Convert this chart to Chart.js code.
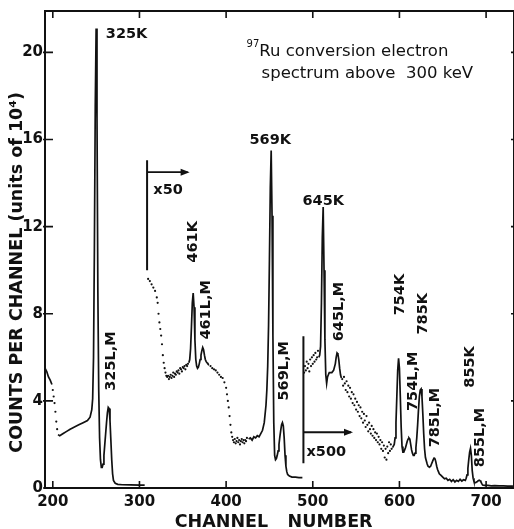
<!DOCTYPE html>
<html>
<head>
<meta charset="utf-8">
<script src="https://cdn.jsdelivr.net/npm/chart.js@4.4.0/dist/chart.umd.min.js"></script>
<style>
  html, body { margin: 0; padding: 0; background: #fff; overflow: hidden; }
  #wrap { width: 514px; height: 529px; overflow: hidden; }
  #wrap canvas { display: block; }
</style>
</head>
<body>
<div id="wrap"><canvas id="spectrum" width="518" height="529"></canvas></div>
<script>
// axis ticks
const xTicks = [200, 300, 400, 500, 600, 700];
const yTicks = [0, 4, 8, 12, 16, 20];

// unscaled part (channel 191-306)
const rawEdgeCh = [191, 193, 195, 197, 199];
const rawEdgeCounts = [5.5, 5.35, 5.1, 4.95, 4.75];
const rawFallCh = [200, 201, 202, 203, 204, 205];
const rawFallCounts = [4.5, 4.2, 3.9, 3.5, 3.05, 2.7];
const raw325Ch = [206, 208, 212, 216, 220, 225, 230, 235, 240, 243,
  245, 246, 247, 248, 249, 250, 251, 252, 253, 254,
  255, 256, 257, 258, 259, 260, 261, 262, 263, 264,
  265, 266, 267, 268, 269, 270, 272, 275, 280, 290, 300, 306];
const raw325Counts = [2.45, 2.4, 2.5, 2.6, 2.7, 2.8, 2.9, 3.0, 3.1, 3.25,
  3.6, 4.1, 6, 11, 17.5, 21.1, 17, 9, 4.5, 2.3,
  1.3, 0.95, 0.95, 1.1, 1.5, 2.0, 2.5, 3.0, 3.45, 3.7,
  3.65, 3.1, 2.2, 1.3, 0.65, 0.35, 0.22, 0.17, 0.15, 0.14, 0.13, 0.13];

// x50 part (channel 310-488)
const x50DropCh = [310, 312, 314, 316, 318,
  320, 321, 322, 323, 324, 325, 326, 327, 328, 329,
  330, 331, 332, 333, 334, 335, 336, 337, 338, 339,
  340, 341, 342, 343, 344, 345, 346, 347, 348, 349,
  350, 351, 352, 353, 354, 355, 356];
const x50DropCounts = [9.6, 9.5, 9.35, 9.2, 9.05,
  8.75, 8.5, 8.0, 7.6, 7.3, 7.0, 6.6, 6.1, 5.75, 5.5,
  5.3, 5.15, 5.1, 5.15, 5.0, 5.1, 5.2, 5.05, 5.15, 5.3,
  5.1, 5.25, 5.2, 5.35, 5.3, 5.4, 5.25, 5.5, 5.45, 5.35,
  5.55, 5.5, 5.6, 5.45, 5.65, 5.6, 5.7];
const x50_461Ch = [357, 358, 359, 360, 361, 362, 363, 364, 365, 366, 367, 368,
  369, 370, 371, 372, 373, 374, 375, 376, 377, 378, 379, 380];
const x50_461Counts = [5.75, 5.9, 6.4, 7.4, 8.5, 8.95, 8.3, 6.8, 5.9, 5.6, 5.5, 5.55,
  5.7, 5.9, 6.1, 6.3, 6.45, 6.35, 6.1, 5.9, 5.8, 5.75, 5.7, 5.65];
const x50TailCh = [382, 384, 386, 388, 390, 392, 394, 396, 398, 400,
  401, 402, 403, 404, 405, 406, 407, 408, 409, 410,
  411, 412, 413, 414, 415, 416, 417, 418, 419, 420,
  421, 422, 423, 424];
const x50TailCounts = [5.6, 5.5, 5.45, 5.4, 5.3, 5.2, 5.1, 5.05, 4.85, 4.6,
  4.3, 4.0, 3.7, 3.3, 2.9, 2.55, 2.35, 2.2, 2.1, 2.25,
  2.05, 2.15, 2.3, 2.1, 2.2, 2.0, 2.15, 2.25, 2.1, 2.2,
  2.05, 2.2, 2.15, 2.3];
const x50_569Ch = [426, 428, 430, 432, 434, 436, 438, 440, 442, 444, 446,
  447, 448, 449, 450, 451, 452, 453, 454, 455, 456,
  457, 458, 459, 460, 461, 462, 463, 464, 465, 466,
  467, 468, 469, 470, 471, 473, 476, 480, 484, 488];
const x50_569Counts = [2.25, 2.3, 2.2, 2.35, 2.3, 2.4, 2.35, 2.5, 2.65, 3.0, 3.8,
  4.5, 5.6, 7.5, 10.5, 13.8, 15.5, 12.5, 7, 3, 1.5,
  1.3, 1.35, 1.5, 1.7, 2.0, 2.35, 2.65, 2.9, 3.0, 2.85,
  2.3, 1.5, 1.0, 0.75, 0.62, 0.55, 0.5, 0.5, 0.48, 0.48];

// x500 part (channel 490-731)
const x500StartCh = [490, 491, 492, 493, 494, 495, 496, 497, 498, 499, 500, 501, 502, 503, 504, 505, 506];
const x500StartCounts = [5.3, 5.6, 5.4, 5.8, 5.5, 5.7, 5.35, 5.9, 5.6, 6.0, 5.7, 6.1, 5.8, 6.2, 5.9, 6.0, 6.3];
const x500_645Ch = [507, 508, 509, 510, 511, 512, 513, 514, 515, 516, 517, 518, 519, 520,
  522, 524, 526, 527, 528, 529, 530, 531, 532, 533];
const x500_645Counts = [6.0, 6.1, 6.5, 8.5, 11.5, 12.9, 10, 6.8, 5.2, 4.8, 5.1, 5.2, 5.3, 5.3,
  5.3, 5.4, 5.7, 6.0, 6.2, 6.15, 5.9, 5.5, 5.2, 5.05];
const x500ScatterCh = [534, 535, 536, 537, 538, 539, 540, 541, 542, 543,
  544, 545, 546, 547, 548, 549, 550, 551, 552, 553,
  554, 555, 556, 557, 558, 559, 560, 561, 562, 563,
  564, 565, 566, 567, 568, 569, 570, 571, 572, 573,
  574, 575, 576, 577, 578, 579, 580, 581, 582, 583,
  584, 585, 586, 587, 588, 589, 590, 591];
const x500ScatterCounts = [5.0, 4.7, 5.1, 4.8, 4.5, 4.9, 4.4, 4.7, 4.2, 4.6,
  4.1, 4.4, 3.9, 4.3, 3.8, 4.1, 3.6, 3.95, 3.5, 3.8,
  3.3, 3.7, 3.2, 3.5, 3.0, 3.4, 3.1, 2.8, 3.3, 2.9,
  2.6, 3.0, 2.7, 2.5, 2.85, 2.4, 2.7, 2.3, 2.55, 2.2,
  2.5, 2.1, 2.35, 2.0, 2.2, 1.8, 2.1, 1.7, 1.95, 1.4,
  1.8, 1.3, 1.9, 1.6, 2.1, 1.7, 2.0, 1.8];
const x500HighCh = [592, 594, 595, 596, 597, 598, 599, 600, 601, 602,
  603, 604, 605, 606, 607, 608, 609, 610, 611, 612,
  613, 614, 615, 616, 617, 618, 619, 620, 621, 622,
  623, 624, 625, 626, 627, 628, 629, 630, 631, 632,
  633, 634, 635, 636, 637, 638, 639, 640, 641, 642,
  643, 644, 645, 646, 648, 650, 652, 654, 656, 658,
  660, 662, 664, 666, 668, 670, 672, 674, 676, 677,
  678, 679, 680, 681, 682, 683, 684, 685, 686, 687,
  688, 689, 690, 691, 692, 693, 694, 695, 696, 698,
  702, 706, 710, 715, 720, 725, 731];
const x500HighCounts = [1.85, 2.0, 2.3, 3.0, 4.2, 5.4, 5.95, 5.5, 4.2, 2.8,
  1.9, 1.65, 1.65, 1.75, 1.85, 2.0, 2.15, 2.25, 2.3, 2.25,
  2.0, 1.75, 1.6, 1.5, 1.5, 1.6, 1.85, 2.3, 2.9, 3.6,
  4.2, 4.5, 4.55, 4.2, 3.4, 2.5, 1.8, 1.4, 1.25, 1.1,
  1.0, 0.97, 0.97, 1.0, 1.1, 1.2, 1.3, 1.37, 1.35, 1.2,
  1.0, 0.85, 0.75, 0.65, 0.58, 0.5, 0.42, 0.45, 0.35, 0.4,
  0.3, 0.38, 0.28, 0.35, 0.3, 0.4, 0.32, 0.38, 0.35, 0.45,
  0.6, 0.9, 1.3, 1.65, 1.82, 1.5, 0.8, 0.45, 0.3, 0.25,
  0.25, 0.28, 0.3, 0.34, 0.36, 0.34, 0.28, 0.2, 0.14, 0.12,
  0.12, 0.1, 0.11, 0.1, 0.1, 0.09, 0.09];

// gain change markers
const gain50BarCh = [308.8, 308.8], gain50BarY = [15.05, 10.0];
const gain50ArrowCh = [308.8, 355.6], gain50ArrowY = [14.5, 14.5];
const gain500BarCh = [489.2, 489.2], gain500BarY = [6.97, 1.14];
const gain500ArrowCh = [489.2, 544.1], gain500ArrowY = [2.56, 2.56];

// peak names
const flatLabels = [
  { t: '325K', x: 261.2, y: 20.64 },
  { t: '569K', x: 427.0, y: 15.81 },
  { t: '645K', x: 488.1, y: 12.98 },
  { t: 'x50', x: 316.0, y: 13.5 },
  { t: 'x500', x: 492.7, y: 1.45 }
];
const upLabels = [
  { t: '325L,M', x: 267.6, y: 5.83 },
  { t: '461K', x: 362.0, y: 11.3 },
  { t: '461L,M', x: 377.0, y: 8.18 },
  { t: '569L,M', x: 467.3, y: 5.38 },
  { t: '645L,M', x: 530.7, y: 8.1 },
  { t: '754K', x: 600.9, y: 8.88 },
  { t: '785K', x: 627.4, y: 8.0 },
  { t: '754L,M', x: 615.9, y: 4.9 },
  { t: '785L,M', x: 641.8, y: 3.23 },
  { t: '855K', x: 682.1, y: 5.56 },
  { t: '855L,M', x: 693.6, y: 2.32 }
];

const INK = '#111';
const FONT = '"DejaVu Sans", sans-serif';

const pts = (xs, ys) => xs.map((v, i) => ({ x: v, y: ys[i] }));
const line = (xs, ys, w) => ({ data: pts(xs, ys), showLine: true, pointRadius: 0, borderColor: INK, borderWidth: w || 1.7, tension: 0 });
const dots = (xs, ys) => ({ data: pts(xs, ys), showLine: false, pointRadius: 1.1, pointBorderWidth: 0, pointBackgroundColor: INK });

const decor = {
  id: 'decor',
  afterDatasetsDraw(chart) {
    const { ctx, chartArea: a, scales: { x, y } } = chart;
    ctx.save();
    ctx.strokeStyle = INK;
    ctx.fillStyle = INK;
    ctx.lineWidth = 2;
    ctx.strokeRect(a.left, a.top, a.right - a.left, a.bottom - a.top);

    // inward ticks
    ctx.lineWidth = 1.6;
    ctx.beginPath();
    xTicks.forEach(v => {
      const px = x.getPixelForValue(v);
      ctx.moveTo(px, a.bottom); ctx.lineTo(px, a.bottom - 7);
      ctx.moveTo(px, a.top); ctx.lineTo(px, a.top + 7);
    });
    yTicks.forEach(v => {
      const py = y.getPixelForValue(v);
      ctx.moveTo(a.left - 2, py); ctx.lineTo(a.left + 8, py);
      ctx.moveTo(a.right, py); ctx.lineTo(a.right - 3, py);
    });
    ctx.stroke();

    // arrowheads
    [[gain50ArrowCh, gain50ArrowY], [gain500ArrowCh, gain500ArrowY]].forEach(([cs, vs]) => {
      const px = x.getPixelForValue(cs[1]), py = y.getPixelForValue(vs[1]);
      ctx.beginPath();
      ctx.moveTo(px + 2, py);
      ctx.lineTo(px - 7, py - 3.5);
      ctx.lineTo(px - 7, py + 3.5);
      ctx.closePath();
      ctx.fill();
    });

    // peak labels
    ctx.font = 'bold 14.5px ' + FONT;
    ctx.textAlign = 'left';
    ctx.textBaseline = 'alphabetic';
    flatLabels.forEach(l => ctx.fillText(l.t, x.getPixelForValue(l.x), y.getPixelForValue(l.y)));
    ctx.textAlign = 'center';
    ctx.textBaseline = 'middle';
    upLabels.forEach(l => {
      ctx.save();
      ctx.translate(x.getPixelForValue(l.x), y.getPixelForValue(l.y));
      ctx.rotate(-Math.PI / 2);
      ctx.fillText(l.t, 0, 0);
      ctx.restore();
    });

    // title inside the plot
    ctx.textAlign = 'left';
    ctx.textBaseline = 'alphabetic';
    let tx = x.getPixelForValue(423.6), ty = y.getPixelForValue(19.82);
    ctx.font = '10px ' + FONT;
    ctx.fillText('97', tx, ty - 9);
    tx += ctx.measureText('97').width;
    ctx.font = '16.5px ' + FONT;
    ctx.fillText('Ru conversion electron', tx, ty);
    ctx.fillText('spectrum above  300 keV', x.getPixelForValue(440.9), y.getPixelForValue(18.82));

    // axis titles
    ctx.font = 'bold 17.5px ' + FONT;
    ctx.fillText('CHANNEL', x.getPixelForValue(340.7), 527);
    ctx.fillText('NUMBER', x.getPixelForValue(470.9), 527);
    ctx.save();
    ctx.translate(17.5, y.getPixelForValue(9.9));
    ctx.rotate(-Math.PI / 2);
    ctx.textAlign = 'center';
    ctx.textBaseline = 'middle';
    ctx.fillText('COUNTS PER CHANNEL (units of 10\u2074)', 0, 0);
    ctx.restore();
    ctx.restore();
  }
};

new Chart('spectrum', {
  type: 'scatter',
  data: {
    datasets: [
      line(rawEdgeCh, rawEdgeCounts),
      dots(rawFallCh, rawFallCounts),
      line(raw325Ch, raw325Counts),
      dots(x50DropCh, x50DropCounts),
      line(x50_461Ch, x50_461Counts),
      dots(x50TailCh, x50TailCounts),
      line(x50_569Ch, x50_569Counts),
      dots(x500StartCh, x500StartCounts),
      line(x500_645Ch, x500_645Counts),
      dots(x500ScatterCh, x500ScatterCounts),
      line(x500HighCh, x500HighCounts),
      line(gain50BarCh, gain50BarY, 2),
      line(gain50ArrowCh, gain50ArrowY, 1.8),
      line(gain500BarCh, gain500BarY, 2),
      line(gain500ArrowCh, gain500ArrowY, 1.8)
    ]
  },
  options: {
    responsive: false,
    animation: false,
    layout: { padding: { top: 7, right: 3, left: 0, bottom: 0 } },
    plugins: { legend: { display: false }, tooltip: { enabled: false } },
    scales: {
      x: {
        type: 'linear', min: 191, max: 732.2,
        grid: { display: false, drawTicks: false },
        border: { display: false },
        afterBuildTicks: s => { s.ticks = xTicks.map(v => ({ value: v })); },
        afterFit: s => { s.height = 41; },
        ticks: { autoSkip: false, maxRotation: 0, padding: 5, color: INK, font: { family: FONT, size: 15, weight: 'bold' } }
      },
      y: {
        min: 0, max: 21.9,
        grid: { display: false, drawTicks: false },
        border: { display: false },
        afterBuildTicks: s => { s.ticks = yTicks.map(v => ({ value: v })); },
        afterFit: s => { s.width = 45; },
        ticks: { padding: 2, color: INK, font: { family: FONT, size: 15, weight: 'bold' } }
      }
    }
  },
  plugins: [decor]
});
</script>
</body>
</html>
